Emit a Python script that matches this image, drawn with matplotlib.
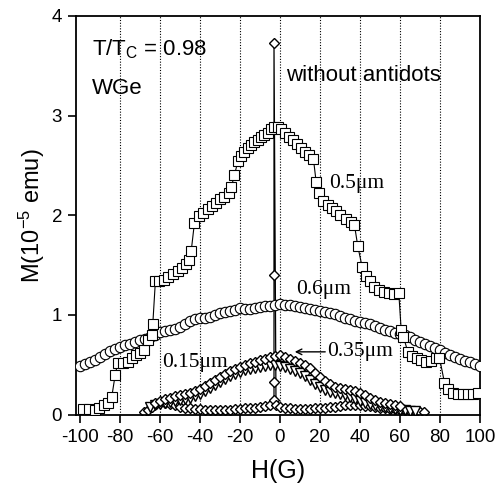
import numpy as np
import matplotlib
matplotlib.use('Agg')
import matplotlib.pyplot as plt

plt.rcParams['font.family'] = 'Liberation Sans'
plt.rcParams['mathtext.fontset'] = 'custom'
plt.rcParams['mathtext.rm'] = 'Liberation Sans'
plt.rcParams['mathtext.it'] = 'Liberation Sans:italic'
plt.rcParams['axes.unicode_minus'] = False

# 0.5 um antidots (squares)
h_05 = [-98.6, -95.3, -92.4, -90.3, -88.1, -86.1, -84.1, -82.4, -81.1, -78.6, -76.1, -74.1,
        -71.9, -69.8, -67.8, -65.8, -64.1, -63.6, -62.3, -60.3, -58.1, -55.8, -53.3, -51.1,
        -49.1, -46.9, -45.6, -44.4, -42.8, -40.3, -38.3, -36.1, -33.9, -31.9, -29.9, -27.8,
        -25.6, -24.4, -22.8, -21.1, -19.4, -17.8, -16.1, -14.4, -12.8, -11.1, -9.4, -7.8,
        -6.1, -4.4, -2.8, -1.1,
        0.6, 2.75, 4.4, 6.4, 8.4, 10.6, 12.75, 14.75, 16.75, 18.1, 19.75, 21.75, 23.9, 26.1,
        28.1, 30.2, 32.8, 35.3, 37.25, 38.9, 41.1, 43.1, 45.1, 47.25, 49.75, 52.25, 54.75,
        57.25, 59.4, 60.6, 61.75, 63.9, 66.1, 68.4, 70.6, 73.1, 75.6, 78.1, 79.75, 82.25,
        83.9, 86.4, 88.9, 91.4, 93.9, 96.4, 98.9]
m_05 = [0.057, 0.057, 0.05, 0.067, 0.093, 0.12, 0.18, 0.40, 0.52, 0.52, 0.53, 0.57,
        0.60, 0.62, 0.65, 0.75, 0.80, 0.91, 1.34, 1.34, 1.35, 1.38, 1.41, 1.44,
        1.47, 1.51, 1.55, 1.64, 1.92, 1.99, 2.02, 2.06, 2.09, 2.12, 2.16, 2.18,
        2.22, 2.28, 2.40, 2.54, 2.59, 2.63, 2.67, 2.70, 2.73, 2.75, 2.79, 2.81,
        2.83, 2.87, 2.89, 2.89,
        2.87, 2.83, 2.79, 2.75, 2.71, 2.67, 2.63, 2.60, 2.56, 2.33, 2.22, 2.14, 2.10, 2.07,
        2.04, 2.00, 1.96, 1.93, 1.90, 1.69, 1.48, 1.39, 1.34, 1.28, 1.25, 1.23, 1.22,
        1.21, 1.22, 0.85, 0.78, 0.63, 0.59, 0.57, 0.55, 0.53, 0.54, 0.57, 0.57, 0.32,
        0.26, 0.22, 0.21, 0.21, 0.21, 0.21, 0.22]

# 0.6 um antidots (circles)
h_06 = list(np.arange(-100, 100.1, 2.5))
m_06 = [0.49, 0.51, 0.53, 0.55, 0.58, 0.61, 0.64, 0.66, 0.68, 0.70, 0.71, 0.73, 0.75, 0.76,
        0.78, 0.80, 0.83, 0.84, 0.85, 0.86, 0.88, 0.91, 0.94, 0.96, 0.97, 0.97, 0.98, 1.00,
        1.02, 1.03, 1.04, 1.05, 1.07, 1.06, 1.06, 1.07, 1.08, 1.09, 1.09, 1.10, 1.11,
        1.10, 1.10, 1.09, 1.08, 1.07, 1.06, 1.05, 1.04, 1.03, 1.02, 1.01, 0.99, 0.97,
        0.96, 0.94, 0.93, 0.92, 0.91, 0.89, 0.87, 0.85, 0.84, 0.82, 0.81, 0.80, 0.78,
        0.75, 0.73, 0.71, 0.69, 0.67, 0.65, 0.62, 0.60, 0.58, 0.56, 0.54, 0.53, 0.51, 0.49]

# 0.35 um antidots
h_035 = list(np.arange(-62.5, 60.1, 2.5))
m_035 = [0.12, 0.14, 0.16, 0.17, 0.19, 0.20, 0.21, 0.22, 0.24, 0.26, 0.29, 0.32, 0.35,
         0.38, 0.41, 0.44, 0.46, 0.48, 0.50, 0.52, 0.53, 0.55, 0.56, 0.58, 0.59, 0.60,
         0.58, 0.56, 0.54, 0.52, 0.50, 0.47, 0.42, 0.38, 0.34, 0.31, 0.28, 0.27, 0.26,
         0.25, 0.24, 0.22, 0.20, 0.17, 0.15, 0.13, 0.12, 0.11, 0.10, 0.09]

# 0.15 um antidots
h_015 = list(np.arange(-65, 67.6, 2.5))
m_015 = [0.08, 0.10, 0.11, 0.12, 0.13, 0.14, 0.15, 0.16, 0.17, 0.19, 0.21, 0.24, 0.27,
         0.30, 0.33, 0.36, 0.39, 0.41, 0.43, 0.45, 0.46, 0.47, 0.48, 0.49, 0.50, 0.50,
         0.49, 0.48, 0.46, 0.44, 0.42, 0.39, 0.35, 0.31, 0.28, 0.25, 0.23, 0.22, 0.21,
         0.20, 0.18, 0.16, 0.14, 0.12, 0.11, 0.10, 0.09, 0.08, 0.07, 0.06, 0.05, 0.05,
         0.04, 0.04]

# without antidots (diamonds, with the jump near H = 0)
h_no = [-68, -66, -64, -62, -60, -57.5, -55, -52.5, -50, -47.5, -45, -42.5, -40, -37.5,
        -35, -32.5, -30, -27.5, -25, -22.5, -20, -17.5, -15, -12.5, -10, -7.5, -5,
        -3, -3, -3, -3, -2,
        0, 2.5, 5, 7.5, 10, 12.5, 15, 17.5, 20, 22.5, 25, 27.5, 30, 32.5, 35, 37.5, 40,
        42.5, 45, 47.5, 50, 52.5, 55, 57.5, 60, 62.5, 65, 67.5, 70, 72]
m_no = [0.03, 0.05, 0.08, 0.11, 0.12, 0.12, 0.11, 0.10, 0.08, 0.07, 0.07, 0.06, 0.06, 0.05,
        0.05, 0.05, 0.05, 0.05, 0.05, 0.06, 0.06, 0.07, 0.07, 0.07, 0.08, 0.09, 0.10,
        0.15, 0.33, 1.40, 3.73, 0.10,
        0.08, 0.07, 0.07, 0.06, 0.06, 0.06, 0.06, 0.07, 0.07, 0.07, 0.08, 0.08, 0.09,
        0.10, 0.10, 0.10, 0.10, 0.09, 0.09, 0.08, 0.07, 0.07, 0.06, 0.06, 0.05, 0.05,
        0.04, 0.04, 0.03, 0.03]

xticks = [-100, -80, -60, -40, -20, 0, 20, 40, 60, 80, 100]
yticks = [0, 1, 2, 3, 4]

fig = plt.figure(figsize=(4.99, 4.96), dpi=100)
ax = fig.add_axes([0.1523, 0.164, 0.8096, 0.804])

for xg in xticks[1:-1]:
    ax.axvline(xg, color='black', lw=0.8, ls=(0, (1, 1.5)), zorder=0)

ax.plot(h_no, m_no, '-', color='black', lw=0.9, marker='D', ms=5.5,
        mfc='white', mec='black', mew=1.0, zorder=2)
ax.plot(h_015, m_015, '-', color='black', lw=0.8, marker='v', ms=6.5,
        mfc='white', mec='black', mew=1.0, zorder=3)
ax.plot(h_035, m_035, '-', color='black', lw=0.8, marker='D', ms=5.5,
        mfc='white', mec='black', mew=1.0, zorder=4)
ax.plot(h_06, m_06, '-', color='black', lw=0.8, marker='o', ms=7.5,
        mfc='white', mec='black', mew=0.8, zorder=5)
ax.plot(h_05, m_05, '-', color='black', lw=0.8, marker='s', ms=6.8,
        mfc='white', mec='black', mew=0.8, zorder=6)

ax.set_xlim(-102, 100)
ax.set_ylim(0, 4)
ax.set_xticks(xticks)
ax.set_yticks(yticks)
ax.tick_params(direction='out', length=6, width=1.2, labelsize=13.5, pad=4)
for s in ax.spines.values():
    s.set_linewidth(1.3)

ax.set_xlabel('H(G)', fontsize=18, labelpad=10)
ax.set_ylabel('M(10$^{-5}$ emu)', fontsize=17, labelpad=3)

ax.text(-94, 3.6, 'T/T$_\\mathrm{C}$ = 0.98', fontsize=16)
ax.text(-94, 3.22, 'WGe', fontsize=16)
ax.text(3, 3.35, 'without antidots', fontsize=16)

ax.text(24.5, 2.32, '0.5\u03bcm', fontsize=15.5, family='Liberation Serif', va='center')
ax.text(8, 1.26, '0.6\u03bcm', fontsize=15.5, family='Liberation Serif', va='center')
ax.text(23.5, 0.63, '0.35\u03bcm', fontsize=15.5, family='Liberation Serif', va='center')
ax.text(-59, 0.52, '0.15\u03bcm', fontsize=15.5, family='Liberation Serif', va='center')
ax.annotate('', xy=(6, 0.63), xytext=(24, 0.63),
            arrowprops=dict(arrowstyle='->', color='black', lw=1.0))

plt.savefig('out.png', dpi=100)
